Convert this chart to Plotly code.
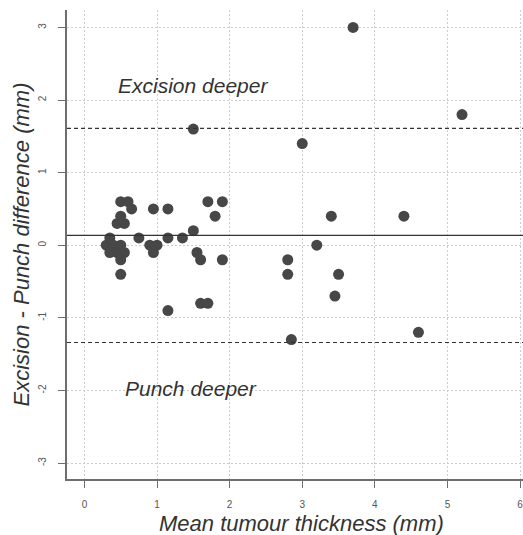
import plotly.graph_objects as go

# Bland-Altman data: mean thickness (x) and excision - punch difference (y)
mean_thickness = [
    0.30, 0.35, 0.35, 0.40, 0.45, 0.50, 0.50, 0.55, 0.50,
    0.45, 0.55, 0.50, 0.50, 0.60, 0.65,
    0.95, 1.15, 1.70, 1.90, 1.80, 1.50, 0.75, 1.15, 1.35,
    0.90, 1.00, 0.95, 1.55, 1.60, 1.90, 0.50, 1.60, 1.70, 1.15,
    1.50, 3.00, 5.20, 3.70, 3.40, 4.40, 3.20, 2.80, 2.80, 3.50,
    3.45, 4.60, 2.85,
]
difference = [
    0.00, 0.10, -0.10, 0.00, -0.10, 0.00, -0.10, -0.10, -0.20,
    0.30, 0.30, 0.40, 0.60, 0.60, 0.50,
    0.50, 0.50, 0.60, 0.60, 0.40, 0.20, 0.10, 0.10, 0.10,
    0.00, 0.00, -0.10, -0.10, -0.20, -0.20, -0.40, -0.80, -0.80, -0.90,
    1.60, 1.40, 1.80, 3.00, 0.40, 0.40, 0.00, -0.20, -0.40, -0.40,
    -0.70, -1.20, -1.30,
]
mean_diff = 0.135
upper_loa = 1.61
lower_loa = -1.34

x_ticks = [0, 1, 2, 3, 4, 5, 6]
y_ticks = [-3, -2, -1, 0, 1, 2, 3]

x_title = "Mean tumour thickness (mm)"
y_title = "Excision - Punch difference (mm)"
label_upper = "Excision deeper"
label_lower = "Punch deeper"
label_upper_pos = (1.49, 2.2)
label_lower_pos = (1.47, -1.98)

FONT = "Liberation Sans, Arial, sans-serif"

fig = go.Figure()
fig.add_trace(go.Scatter(
    x=mean_thickness, y=difference, mode="markers",
    marker=dict(size=11, color="#474747", line=dict(width=0)),
    showlegend=False, hoverinfo="x+y",
))

fig.add_hline(y=mean_diff, line=dict(color="#333333", width=1.2))
fig.add_hline(y=upper_loa, line=dict(color="#333333", width=1.2, dash="4px,3px"))
fig.add_hline(y=lower_loa, line=dict(color="#333333", width=1.2, dash="4px,3px"))

fig.add_annotation(x=label_upper_pos[0], y=label_upper_pos[1], text=f"<i>{label_upper}</i>",
                   showarrow=False, font=dict(family=FONT, size=21, color="#333333"))
fig.add_annotation(x=label_lower_pos[0], y=label_lower_pos[1], text=f"<i>{label_lower}</i>",
                   showarrow=False, font=dict(family=FONT, size=21, color="#333333"))

# axis titles placed as paper annotations
fig.add_annotation(xref="paper", yref="paper", x=0.5, y=0, xshift=6, yshift=-44,
                   xanchor="center", yanchor="middle", showarrow=False,
                   text=f"<i>{x_title}</i>", font=dict(family=FONT, size=22, color="#333333"))
fig.add_annotation(xref="paper", yref="paper", x=0, y=0.5, xshift=-46, yshift=0,
                   xanchor="center", yanchor="middle", showarrow=False, textangle=-90,
                   text=f"<i>{y_title}</i>", font=dict(family=FONT, size=22, color="#333333"))

axis_common = dict(
    showline=True, linecolor="#6e6e6e", linewidth=1.5, mirror=False,
    ticks="outside", ticklen=7, tickwidth=1.2, tickcolor="#6e6e6e",
    showgrid=True, gridcolor="#cccccc", griddash="2px,2px", gridwidth=1,
    zeroline=False, tickfont=dict(family=FONT, size=10, color="#555555"),
    ticklabelstandoff=8, automargin=False, ticklabeloverflow="allow",
)

fig.update_xaxes(range=[-0.24, 6.04], tickvals=x_ticks,
                 ticktext=[str(v) for v in x_ticks], **axis_common)
fig.update_yaxes(range=[-3.22, 3.24], tickvals=y_ticks,
                 ticktext=[str(v) for v in y_ticks], tickangle=-90, **axis_common)

fig.update_layout(
    width=523, height=535,
    margin=dict(l=67, r=0, t=10, b=56, autoexpand=False),
    paper_bgcolor="white", plot_bgcolor="white",
    font=dict(family=FONT),
)

fig.write_html(
    "out.html",
    config={"displayModeBar": False},
    post_script="document.body.style.margin='0';document.body.style.overflow='hidden';",
)
